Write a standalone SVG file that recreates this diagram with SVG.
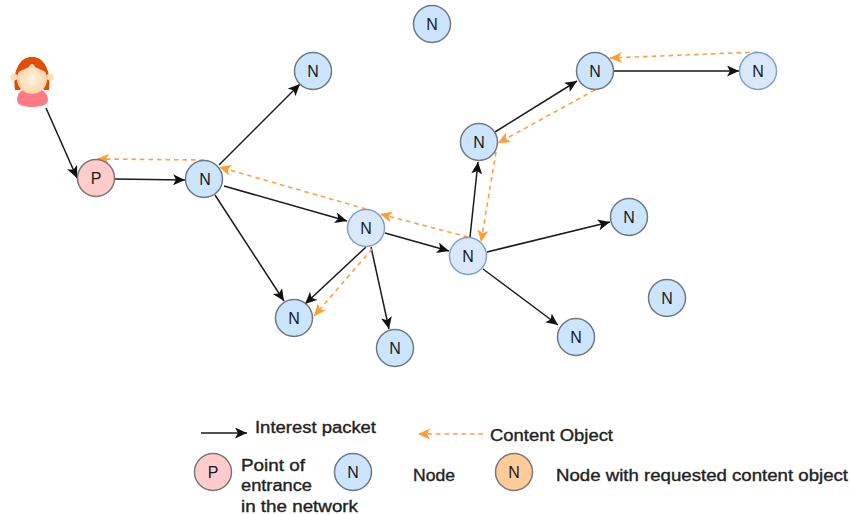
<svg xmlns="http://www.w3.org/2000/svg" width="850" height="515" viewBox="0 0 850 515">
<style>
text{font-family:"Liberation Sans",Arial,sans-serif;fill:#1a1a1a}
.n{fill:#cce5ff;stroke:#6f7780;stroke-width:1.5}
.l{fill:#dae8fc;stroke:#7f9fce;stroke-width:1.5}
.p{fill:#ffcccc;stroke:#777;stroke-width:1.5}
.o{fill:#ffcc99;stroke:#777;stroke-width:1.5}
.t{font-size:16px;text-anchor:middle}
.lg{font-size:16px;stroke:#222;stroke-width:.35;fill:#222}
.a{fill:none;stroke:#1a1a1a;stroke-width:1.5;marker-end:url(#ah)}
.c{fill:none;stroke:#ff9f40;stroke-width:1.6;stroke-dasharray:4.500 4;marker-end:url(#ac)}
</style>
<defs>
<marker id="ah" markerUnits="userSpaceOnUse" markerWidth="15" markerHeight="12" refX="12" refY="5.500" orient="auto"><path d="M0 0L12 5.500L0 11L3 5.500Z" fill="#111"/></marker>
<marker id="ac" markerUnits="userSpaceOnUse" markerWidth="15" markerHeight="12" refX="12" refY="5.500" orient="auto"><path d="M0 0L12 5.500L0 11L3 5.500Z" fill="#ff9f33"/></marker>
<radialGradient id="face"><stop offset="0" stop-color="#fff6e6"/><stop offset="1" stop-color="#ffd3a6"/></radialGradient>
</defs>
<g id="connectors">
<path class="a" d="M46 108L77 178"/>
<path class="a" d="M115 179L185 180"/>
<path class="a" d="M219 165L300 84"/>
<path class="a" d="M224 186L347 221"/>
<path class="a" d="M215 195L284 301"/>
<path class="a" d="M385 233L449 251"/>
<path class="a" d="M371 247L389 329"/>
<path class="a" d="M366 247L305 304"/>
<path class="a" d="M470 237L478 162"/>
<path class="a" d="M495 132L577 81"/>
<path class="a" d="M614 71L739 71"/>
<path class="a" d="M487 252L610 222"/>
<path class="a" d="M483 269L558 325"/>
<path class="c" d="M204 160L97 159"/>
<path class="c" d="M468 237L380 214"/>
<path class="c" d="M366 209L219 167"/>
<path class="c" d="M372 249L314 316"/>
<path class="c" d="M496 152L481 242"/>
<path class="c" d="M595 90L498 143"/>
<path class="c" d="M758 52L610 58"/>
<path class="a" d="M201 433L247 433"/>
<path class="c" d="M483 434L418 434"/>
</g>
<g id="user">
<path d="M17 100C17 92 23 88 32 88C41 88 48 92 48 100C48 105 40 107 32 107C24 107 17 105 17 100Z" fill="#ff7a85"/>
<path d="M15 90C12 68 22 57 32 57C42 57 52 68 49 90L44 90L32 70L20 90Z" fill="#e04e00"/>
<circle cx="14" cy="77" r="3.500" fill="#ffdcb8"/>
<circle cx="50" cy="77" r="3.500" fill="#ffdcb8"/>
<ellipse cx="32" cy="79" rx="15" ry="15" fill="url(#face)"/>
<path d="M18 72C21 66 27 65 31 63C30 66 29 67 27 68ZM46 72C43 66 37 65 33 63C34 66 35 67 37 68Z" fill="#e04e00"/>
<path d="M17 72C19 60 26 57 32 57C38 57 45 60 47 72C43 66 37 66 32 62C27 66 21 66 17 72Z" fill="#e04e00"/>
</g>
<g id="node-top"><circle class="n" cx="432" cy="24" r="18.500"/><text class="t" x="432" y="30">N</text></g>
<g id="node-a"><circle class="n" cx="313" cy="71" r="18.500"/><text class="t" x="313" y="77">N</text></g>
<g id="node-b"><circle class="n" cx="595" cy="71" r="18.500"/><text class="t" x="595" y="77">N</text></g>
<g id="node-c"><circle class="l" cx="758" cy="71" r="18.500"/><text class="t" x="758" y="77">N</text></g>
<g id="node-d"><circle class="n" cx="479" cy="142" r="18.500"/><text class="t" x="479" y="148">N</text></g>
<g id="node-p"><circle class="p" cx="96" cy="178" r="18.500"/><text class="t" x="96" y="184">P</text></g>
<g id="node-e"><circle class="n" cx="204" cy="179" r="18.500"/><text class="t" x="205" y="185">N</text></g>
<g id="node-f"><circle class="l" cx="366" cy="228" r="18.500"/><text class="t" x="366" y="234">N</text></g>
<g id="node-g"><circle class="l" cx="468" cy="256" r="18.500"/><text class="t" x="468" y="262">N</text></g>
<g id="node-h"><circle class="n" cx="629" cy="217" r="18.500"/><text class="t" x="629" y="223">N</text></g>
<g id="node-i"><circle class="n" cx="667" cy="298" r="18.500"/><text class="t" x="667" y="304">N</text></g>
<g id="node-j"><circle class="n" cx="576" cy="337" r="18.500"/><text class="t" x="576" y="343">N</text></g>
<g id="node-k"><circle class="n" cx="395" cy="348" r="18.500"/><text class="t" x="395" y="354">N</text></g>
<g id="node-l"><circle class="n" cx="294" cy="318" r="18.500"/><text class="t" x="294" y="324">N</text></g>
<g id="legend">
<text class="lg" x="255" y="433" textLength="121" lengthAdjust="spacingAndGlyphs">Interest packet</text>
<text class="lg" x="490" y="441" textLength="123" lengthAdjust="spacingAndGlyphs">Content Object</text>
<circle class="p" cx="213" cy="472" r="18.500"/><text class="t" x="213" y="478">P</text>
<text class="lg" x="241" y="471" textLength="64" lengthAdjust="spacingAndGlyphs">Point of</text>
<text class="lg" x="241" y="491" textLength="71" lengthAdjust="spacingAndGlyphs">entrance</text>
<text class="lg" x="241" y="512" textLength="117" lengthAdjust="spacingAndGlyphs">in the network</text>
<circle class="n" cx="353" cy="472" r="18.500"/><text class="t" x="353" y="478">N</text>
<text class="lg" x="413" y="481" textLength="42" lengthAdjust="spacingAndGlyphs">Node</text>
<circle class="o" cx="514" cy="472" r="18.500"/><text class="t" x="514" y="478">N</text>
<text class="lg" x="556" y="481" textLength="292" lengthAdjust="spacingAndGlyphs">Node with requested content object</text>
</g>
</svg>
